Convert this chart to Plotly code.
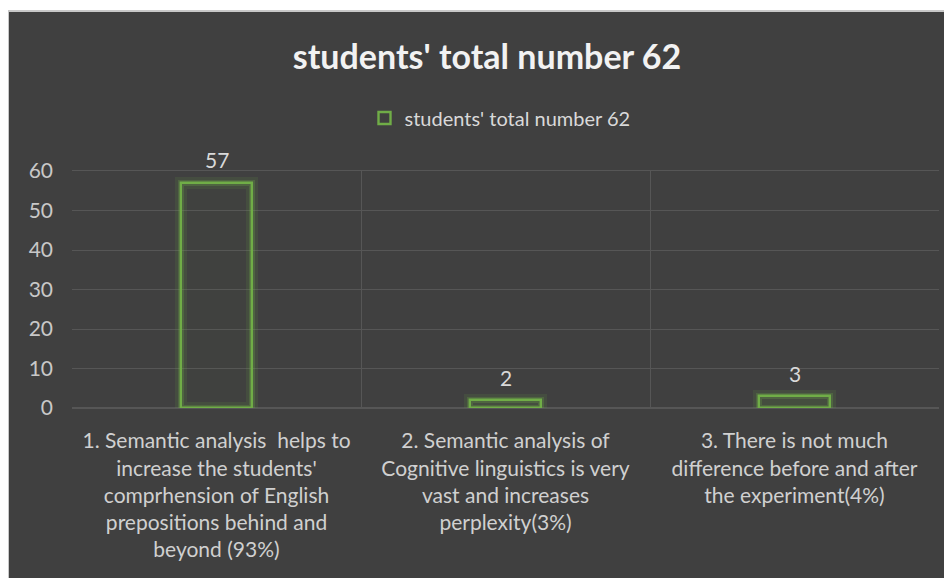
import plotly.graph_objects as go

categories = [
    "1. Semantic analysis  helps to<br>increase the students'<br>comprhension of English<br>prepositions behind and<br>beyond (93%)",
    "2. Semantic analysis of<br>Cognitive linguistics is very<br>vast and increases<br>perplexity(3%)",
    "3. There is not much<br>difference before and after<br>the experiment(4%)",
]
values = [57, 2, 3]
series_name = "students' total number 62"
chart_title = "students' total number 62"
y_ticks = [0, 10, 20, 30, 40, 50, 60]

# the page body adds an 8px offset; positions below are in figure pixels
OFF = 8
W, H = 952, 578
L, R = 72 - OFF, W - (939 - OFF)
T, B = 171 - OFF, H - (408 - OFF)
pw, ph = W - L - R, H - T - B


def px_x(p):
    return (p - OFF - L) / pw


def px_y(p):
    return (H - B - (p - OFF)) / ph


FONT = "Lato, 'Open Sans', sans-serif"
GREEN = "#70AD47"
GRID = "#565656"

fig = go.Figure()
# soft glow behind outlined bars
fig.add_trace(go.Bar(
    x=categories, y=values, width=0.245,
    marker=dict(color="rgba(0,0,0,0)",
                line=dict(color="rgba(112,173,71,0.13)", width=12)),
    showlegend=False, hoverinfo="skip", cliponaxis=False,
))
fig.add_trace(go.Bar(
    x=categories, y=values, width=0.245,
    marker=dict(color="rgba(0,0,0,0)",
                line=dict(color="rgba(112,173,71,0.25)", width=6)),
    showlegend=False, hoverinfo="skip", cliponaxis=False,
))
fig.add_trace(go.Bar(
    x=categories, y=values, width=0.245, name=series_name,
    marker=dict(color="rgba(112,173,71,0.02)",
                line=dict(color=GREEN, width=2.4)),
    cliponaxis=False,
))

# data labels, anchored on the data points
for c, v in zip(categories, values):
    fig.add_annotation(x=c, y=v, text=str(v), showarrow=False,
                       yanchor="middle", yshift=23,
                       font=dict(family=FONT, size=21, color="#d9d9d9"))

fig.add_shape(type="rect", xref="paper", yref="paper",
              x0=px_x(8), x1=px_x(965), y0=px_y(590), y1=px_y(11),
              fillcolor="#404040", line=dict(color="#c8c8c8", width=2),
              layer="below")

fig.update_layout(
    width=W, height=H,
    margin=dict(l=L, r=R, t=T, b=B),
    paper_bgcolor="#ffffff",
    plot_bgcolor="rgba(0,0,0,0)",
    barmode="overlay",
    title=dict(text="<b>" + chart_title + "</b>", x=(487 - OFF) / W,
               xanchor="center", y=1 - (57 - OFF) / H, yanchor="middle",
               font=dict(family=FONT, size=34, color="#f2f2f2")),
    legend=dict(orientation="h", x=px_x(500), xanchor="center",
                y=px_y(118), yanchor="middle",
                font=dict(family=FONT, size=20, color="#d9d9d9"),
                bgcolor="rgba(0,0,0,0)"),
    showlegend=True,
    xaxis=dict(type="category", tickson="boundaries", showgrid=True,
               gridcolor=GRID, gridwidth=1, ticks="", showline=True,
               mirror=True, linecolor=GRID, linewidth=1,
               tickfont=dict(family=FONT, size=21, color="#d0d0d0"),
               ticklabelstandoff=14, range=[-0.5, 2.5]),
    yaxis=dict(range=[0, 60], tickvals=y_ticks, showgrid=True,
               gridcolor=GRID, gridwidth=1, zeroline=True,
               zerolinecolor=GRID, ticks="", showline=False,
               tickfont=dict(family=FONT, size=21, color="#c8c8c8"),
               ticklabelstandoff=18),
    bargap=0,
)

fig.write_html("out.html")
